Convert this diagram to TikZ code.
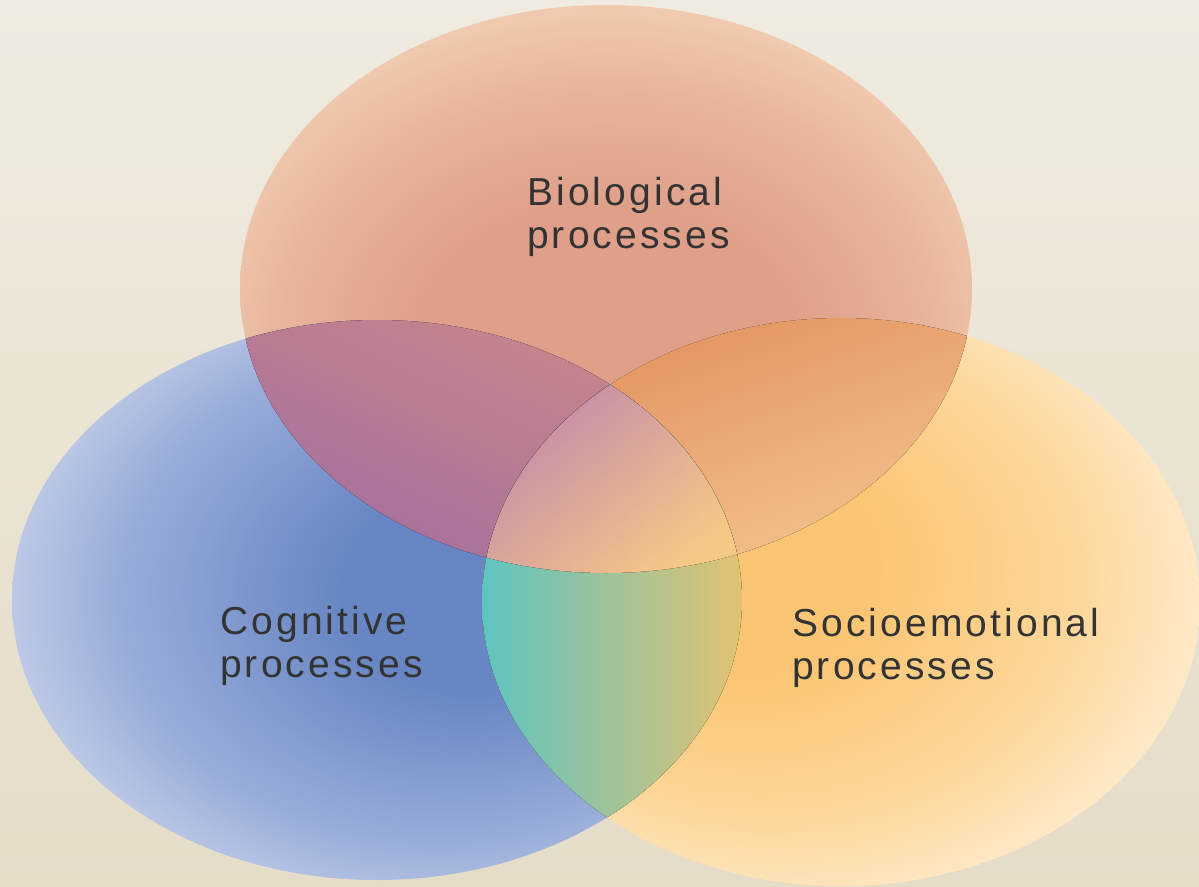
\documentclass[tikz,border=0pt]{standalone}
\usepackage{fontspec}
\newfontfamily\procfont{Liberation Sans}[LetterSpace=8]
\usepackage{tikz}
\usetikzlibrary{positioning}

\definecolor{bgtop}{HTML}{EFEBE0}
\definecolor{bgbot}{HTML}{E5DDC8}
\definecolor{bioin}{HTML}{DF9F89}
\definecolor{biomid}{HTML}{E8B49C}
\definecolor{bioout}{HTML}{F4D4B8}
\definecolor{cogin}{HTML}{6786C3}
\definecolor{cogmid}{HTML}{98ACD9}
\definecolor{cogout}{HTML}{D6DCEF}
\definecolor{socin}{HTML}{FBC674}
\definecolor{socmid}{HTML}{FDD698}
\definecolor{socout}{HTML}{FEF0D9}
\definecolor{bcgtop}{HTML}{CB8888}
\definecolor{bcgbot}{HTML}{A46EA0}
\definecolor{bsctop}{HTML}{E28F5C}
\definecolor{bscbot}{HTML}{F4C590}
\definecolor{csleft}{HTML}{5EC4C0}
\definecolor{csmid}{HTML}{A9BE98}
\definecolor{csright}{HTML}{E2C272}
\definecolor{alltop}{HTML}{C28AAA}
\definecolor{allmid}{HTML}{EBB088}
\definecolor{allbot}{HTML}{F6C886}
\definecolor{txt}{HTML}{333333}

% the ellipse rim sits at 25bp
\pgfdeclareradialshading{bioshade}{\pgfpoint{0bp}{-8bp}}{%
  color(0bp)=(bioin); color(13bp)=(bioin); color(22bp)=(biomid); color(31bp)=(bioout); color(50bp)=(bioout)}
\pgfdeclareradialshading{cogshade}{\pgfpoint{8bp}{1bp}}{%
  color(0bp)=(cogin); color(9bp)=(cogin); color(22bp)=(cogmid); color(33bp)=(cogout); color(50bp)=(cogout)}
\pgfdeclareradialshading{socshade}{\pgfpoint{-9bp}{4bp}}{%
  color(0bp)=(socin); color(10bp)=(socin); color(21bp)=(socmid); color(32bp)=(socout); color(50bp)=(socout)}

\begin{document}
\begin{tikzpicture}[x=1pt,y=-1pt,
  proc/.style={font=\procfont\fontsize{39}{43}\selectfont, text=txt,
    align=left, anchor=west, inner sep=0pt}]
\useasboundingbox (0,0) rectangle (1199,886);
\fill[top color=bgtop, bottom color=bgbot] (0,0) rectangle (1199,886);
%%
\coordinate (bioc) at (606,289);
\coordinate (cogc) at (377,600);
\coordinate (socc) at (841,602);
  % Ellipse: biological
  \path[shading=bioshade] (bioc) ellipse (366pt and 284pt);
  % Ellipse: cognitive
  \path[shading=cogshade] (cogc) ellipse (365pt and 280pt);
  % Ellipse: socioemotional
  \path[shading=socshade] (socc) ellipse (359pt and 284pt);
  % Overlap: biological -- cognitive
\begin{scope}
  \clip (bioc) ellipse (366pt and 284pt);
  \clip (cogc) ellipse (365pt and 280pt);
  \fill[top color=bcgtop, bottom color=bcgbot, shading angle=-25] (240,316) rectangle (742,575);
\end{scope}
  % Overlap: biological -- socioemotional
\begin{scope}
  \clip (bioc) ellipse (366pt and 284pt);
  \clip (socc) ellipse (359pt and 284pt);
  \fill[top color=bsctop, bottom color=bscbot, shading angle=20] (480,316) rectangle (972,575);
\end{scope}
  % Overlap: cognitive -- socioemotional
\begin{scope}
  \clip (cogc) ellipse (365pt and 280pt);
  \clip (socc) ellipse (359pt and 284pt);
  \fill[left color=csleft, middle color=csmid, right color=csright] (482,380) rectangle (742,880);
\end{scope}
  % Overlap: all three
\begin{scope}
  \clip (bioc) ellipse (366pt and 284pt);
  \clip (cogc) ellipse (365pt and 280pt);
  \clip (socc) ellipse (359pt and 284pt);
  \fill[top color=alltop, middle color=allmid, bottom color=allbot, shading angle=40] (482,385) rectangle (742,575);
\end{scope}
%
  % Node: bio
\node[proc] (bio) at (527,217) {Biological\\processes};
  % Node: cog
\node[proc] (cog) at (220,646) {Cognitive\\processes};
  % Node: soc
\node[proc] (soc) at (792,648) {Socioemotional\\processes};
\end{tikzpicture}
\end{document}
